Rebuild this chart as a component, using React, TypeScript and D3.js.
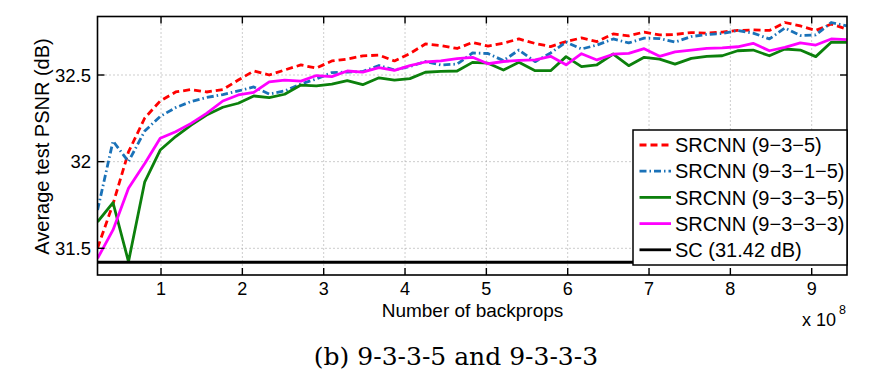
import React from "react";
import * as d3 from "d3";

const backprops = [0.22, 0.41, 0.60, 0.80, 0.99, 1.18, 1.37, 1.56, 1.76, 1.95, 2.14, 2.33, 2.52, 2.72, 2.91, 3.10, 3.29, 3.48, 3.68, 3.87, 4.06, 4.25, 4.44, 4.64, 4.83, 5.02, 5.21, 5.40, 5.60, 5.79, 5.98, 6.17, 6.36, 6.56, 6.75, 6.94, 7.13, 7.32, 7.52, 7.71, 7.90, 8.09, 8.28, 8.48, 8.67, 8.86, 9.05, 9.24, 9.43];

const srcnn935 = [31.502, 31.756, 32.056, 32.252, 32.350, 32.402, 32.416, 32.402, 32.416, 32.471, 32.523, 32.500, 32.529, 32.558, 32.540, 32.581, 32.592, 32.610, 32.615, 32.581, 32.624, 32.679, 32.670, 32.653, 32.688, 32.667, 32.684, 32.708, 32.682, 32.664, 32.693, 32.714, 32.693, 32.737, 32.726, 32.748, 32.731, 32.734, 32.745, 32.742, 32.748, 32.757, 32.760, 32.757, 32.803, 32.783, 32.757, 32.794, 32.765];

const srcnn9315 = [31.721, 32.119, 32.000, 32.177, 32.261, 32.312, 32.347, 32.370, 32.387, 32.408, 32.431, 32.390, 32.408, 32.448, 32.477, 32.514, 32.517, 32.520, 32.555, 32.529, 32.549, 32.578, 32.558, 32.563, 32.627, 32.624, 32.583, 32.644, 32.577, 32.627, 32.690, 32.650, 32.673, 32.708, 32.685, 32.713, 32.710, 32.690, 32.722, 32.734, 32.739, 32.757, 32.742, 32.708, 32.771, 32.728, 32.731, 32.803, 32.783];

const srcnn9335 = [31.653, 31.763, 31.423, 31.884, 32.067, 32.145, 32.211, 32.269, 32.314, 32.337, 32.379, 32.369, 32.389, 32.442, 32.437, 32.448, 32.467, 32.444, 32.484, 32.471, 32.479, 32.516, 32.521, 32.523, 32.573, 32.568, 32.529, 32.573, 32.525, 32.525, 32.606, 32.548, 32.559, 32.621, 32.554, 32.602, 32.592, 32.563, 32.596, 32.608, 32.611, 32.640, 32.644, 32.611, 32.650, 32.644, 32.606, 32.689, 32.689];

const srcnn9333 = [31.442, 31.606, 31.846, 31.990, 32.135, 32.173, 32.221, 32.279, 32.350, 32.385, 32.400, 32.460, 32.471, 32.465, 32.497, 32.491, 32.523, 32.517, 32.543, 32.527, 32.554, 32.575, 32.581, 32.594, 32.602, 32.565, 32.578, 32.585, 32.587, 32.608, 32.559, 32.623, 32.587, 32.620, 32.625, 32.652, 32.608, 32.633, 32.644, 32.654, 32.656, 32.663, 32.683, 32.640, 32.660, 32.685, 32.673, 32.708, 32.704];

const scValue = 31.42;

const xTicks = [1, 2, 3, 4, 5, 6, 7, 8, 9];
const yTicks = [31.5, 32, 32.5];

const seriesNames = ["SRCNN (9\u22123\u22125)", "SRCNN (9\u22123\u22121\u22125)", "SRCNN (9\u22123\u22123\u22125)", "SRCNN (9\u22123\u22123\u22123)", "SC (31.42 dB)"];
const seriesColors = ["#ff0000", "#1a72b8", "#0c800c", "#ff00ff", "#000000"];
const seriesDash = ["7,4", "7,3,1.5,3", "none", "none", "none"];

const W = 869, H = 376;
const L = 97.5, R = 847, T = 16.5, B = 275;
const FONT = "'Liberation Sans', Arial, Helvetica, sans-serif";

export default function App() {
  const x = d3.scaleLinear().domain([0.219, 9.434]).range([L, R]);
  const y = d3.scaleLinear().domain([31.346, 32.8376]).range([B, T]);
  const line = d3.line<number>().x((_, i) => x(backprops[i])).y((d) => y(d));
  const seriesData = [srcnn935, srcnn9315, srcnn9335, srcnn9333];
  const scLine = d3.line<number>().x((d) => x(d)).y(() => y(scValue));

  const legX = 633, legY = 130, legW = R - 633, legH = 135;
  const rowH = 26.2;

  return (
    <svg width={W} height={H} style={{ position: "absolute", left: 0, top: 0, background: "#fff" }}>
      <defs>
        <clipPath id="plotclip">
          <rect x={L} y={T} width={R - L} height={B - T} />
        </clipPath>
      </defs>
      <rect x={0} y={0} width={W} height={H} fill="#fff" />
      {/* grid */}
      {xTicks.map((t) => (
        <line key={"gx" + t} x1={x(t)} x2={x(t)} y1={T} y2={B} stroke="#9a9a9a" strokeWidth={1} strokeDasharray="1,3" />
      ))}
      {yTicks.map((t) => (
        <line key={"gy" + t} x1={L} x2={R} y1={y(t)} y2={y(t)} stroke="#9a9a9a" strokeWidth={1} strokeDasharray="1,3" />
      ))}
      {/* series */}
      <g clipPath="url(#plotclip)">
        {seriesData.map((s, k) => (
          <path key={"s" + k} d={line(s) || ""} fill="none" stroke={seriesColors[k]} strokeWidth={2.8}
            strokeDasharray={seriesDash[k]} strokeLinejoin="round" />
        ))}
        <path d={scLine([0.219, 9.434]) || ""} fill="none" stroke="#000" strokeWidth={3} />
      </g>
      {/* axes box */}
      <rect x={L} y={T} width={R - L} height={B - T} fill="none" stroke="#000" strokeWidth={1.6} />
      {xTicks.map((t) => (
        <g key={"tx" + t}>
          <line x1={x(t)} x2={x(t)} y1={B} y2={B - 7} stroke="#000" strokeWidth={1.4} />
          <line x1={x(t)} x2={x(t)} y1={T} y2={T + 7} stroke="#000" strokeWidth={1.4} />
          <text x={x(t)} y={295} textAnchor="middle" fontFamily={FONT} fontSize={18} fill="#000">{t}</text>
        </g>
      ))}
      {yTicks.map((t) => (
        <g key={"ty" + t}>
          <line x1={L} x2={L + 7} y1={y(t)} y2={y(t)} stroke="#000" strokeWidth={1.4} />
          <line x1={R} x2={R - 7} y1={y(t)} y2={y(t)} stroke="#000" strokeWidth={1.4} />
          <text x={91} y={y(t)} dy="0.36em" textAnchor="end" fontFamily={FONT} fontSize={18.5} fill="#000">{t}</text>
        </g>
      ))}
      {/* axis labels */}
      <text x={472.5} y={317} textAnchor="middle" fontFamily={FONT} fontSize={19} fill="#000">Number of backprops</text>
      <text x={802} y={326} fontFamily={FONT} fontSize={18} fill="#000">x 10</text>
      <text x={839} y={314} fontFamily={FONT} fontSize={12.5} fill="#000">8</text>
      <text transform={`translate(49,146.5) rotate(-90)`} textAnchor="middle" fontFamily={FONT} fontSize={20} fill="#000">Average test PSNR (dB)</text>
      {/* legend */}
      <rect x={legX} y={legY} width={legW} height={legH} fill="#fff" stroke="#000" strokeWidth={1.5} />
      {seriesNames.map((nm, k) => {
        const cy = legY + 15 + k * rowH;
        return (
          <g key={"lg" + k}>
            <line x1={639.5} x2={671} y1={cy} y2={cy} stroke={seriesColors[k]} strokeWidth={2.8}
              strokeDasharray={seriesDash[k]} />
            <text x={675} y={cy} dy="0.36em" fontFamily={FONT} fontSize={20} fill="#000">{nm}</text>
          </g>
        );
      })}
      {/* caption */}
      <text x={456} y={365} textAnchor="middle" fontFamily="'DejaVu Serif', 'Liberation Serif', serif" fontSize={25} fill="#000">(b) 9-3-3-5 and 9-3-3-3</text>
    </svg>
  );
}
